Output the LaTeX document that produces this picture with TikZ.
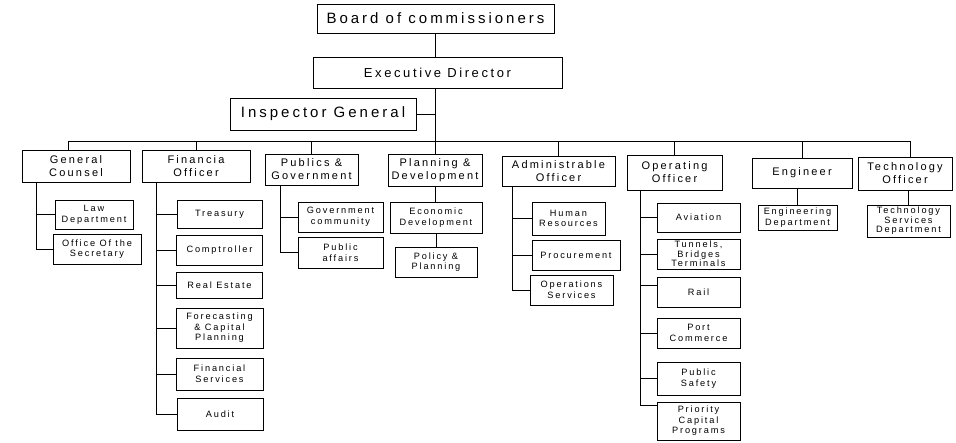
\documentclass[tikz,border=0pt]{standalone}
\usepackage{fontspec}
\setmainfont{Liberation Sans}[LetterSpace=20]
\begin{document}
\begin{tikzpicture}[x=1pt,y=-1pt,line width=0.9pt,
  box/.style={draw,rectangle,align=center,inner sep=0.5pt},
  topbox/.style={box,font=\fontsize{15}{18}\selectfont},
  edbox/.style={box,font=\fontsize{13}{16}\selectfont},
  headbox/.style={box,font=\fontsize{11}{13}\selectfont},
  subbox/.style={box,font=\fontsize{9.2}{10.6}\selectfont},
  tightbox/.style={box,font=\fontsize{9.2}{9.4}\selectfont}]
\useasboundingbox (0,0) rectangle (956,442);
% top levels
\node[topbox,minimum width=237pt,minimum height=29pt] (board) at (435.5,18.5) {Board of commissioners};
\node[edbox,minimum width=249pt,minimum height=31pt] (ed) at (437.5,72.5) {Executive Director};
\node[topbox,minimum width=186pt,minimum height=32pt] (ig) at (323,114) {Inspector General};
% heads
\node[headbox,minimum width=108pt,minimum height=32pt] (gc) at (76,166) {General\\Counsel};
\node[headbox,minimum width=108pt,minimum height=32pt] (fin) at (196,166) {Financia\\Officer};
\node[headbox,minimum width=93pt,minimum height=31pt] (pub) at (311.5,169.5) {Publics \&\\Government};
\node[headbox,minimum width=94pt,minimum height=32pt] (plan) at (435,170) {Planning \&\\Development};
\node[headbox,minimum width=113pt,minimum height=30pt] (adm) at (558.5,171) {Administrable\\Officer};
\node[headbox,minimum width=95pt,minimum height=35pt] (op) at (674.5,172.5) {Operating\\Officer};
\node[headbox,minimum width=100pt,minimum height=30pt] (eng) at (802,173) {Engineer};
\node[headbox,minimum width=94pt,minimum height=33pt] (tech) at (905,173.5) {Technology\\Officer};
% general counsel children
\node[subbox,minimum width=78pt,minimum height=29pt] (law) at (94,214.5) {Law\\Department};
\node[subbox,minimum width=88pt,minimum height=30pt] (sec) at (97,249) {Office Of the\\Secretary};
% financial children
\node[subbox,minimum width=85pt,minimum height=28pt] (tre) at (219.5,214) {Treasury};
\node[subbox,minimum width=86pt,minimum height=30pt] (comp) at (219.5,250) {Comptroller};
\node[subbox,minimum width=86pt,minimum height=26pt] (real) at (219.5,285) {Real Estate};
\node[subbox,minimum width=87pt,minimum height=40pt] (fore) at (219.5,328) {Forecasting\\\& Capital\\Planning};
\node[subbox,minimum width=87pt,minimum height=32pt] (fsv) at (219.5,374) {Financial\\Services};
\node[subbox,minimum width=86pt,minimum height=32pt] (aud) at (220,414) {Audit};
% publics children
\node[subbox,minimum width=85pt,minimum height=30pt] (gov) at (340.5,217) {Government\\community};
\node[subbox,minimum width=85pt,minimum height=31pt] (paff) at (340.5,252.5) {Public\\affairs};
% planning children
\node[subbox,minimum width=92pt,minimum height=31pt] (eco) at (436,217.5) {Economic\\Development};
\node[subbox,minimum width=82pt,minimum height=30pt] (pol) at (436,262) {Policy \&\\Planning};
% admin children
\node[subbox,minimum width=73pt,minimum height=33pt] (hr) at (568.5,218.5) {Human\\Resources};
\node[subbox,minimum width=88pt,minimum height=30pt] (proc) at (576,255) {Procurement};
\node[subbox,minimum width=83pt,minimum height=30pt] (ops) at (571.5,290) {Operations\\Services};
% operating children
\node[subbox,minimum width=83pt,minimum height=29pt] (av) at (698.5,217.5) {Aviation};
\node[tightbox,minimum width=83pt,minimum height=30pt] (tun) at (698.5,254) {Tunnels,\\Bridges\\Terminals};
\node[subbox,minimum width=83pt,minimum height=30pt] (rail) at (698.5,292) {Rail};
\node[subbox,minimum width=83pt,minimum height=30pt] (port) at (698.5,333) {Port\\Commerce};
\node[subbox,minimum width=83pt,minimum height=33pt] (saf) at (698.5,378.5) {Public\\Safety};
\node[subbox,minimum width=83pt,minimum height=38pt] (prio) at (698.5,421) {Priority\\Capital\\Programs};
% engineer / technology children
\node[subbox,minimum width=79pt,minimum height=25pt] (engdep) at (797.5,217.5) {Engineering\\Department};
\node[tightbox,minimum width=83pt,minimum height=32pt] (tsd) at (908.5,221) {Technology\\Services\\Department};
% connectors: top
\draw (board.south) -- (board.south |- ed.north);
\draw (ed.south -| plan.north) -- (plan.north);
\draw (ig.east) -- (ig.east -| plan.north);
\coordinate (barL) at (68,141);
\coordinate (barR) at (910,141);
\draw (barL) -- (barR);
\draw (gc.north -| barL) -- (barL);
\draw (fin.north) -- (fin.north |- barL);
\draw (pub.north) -- (pub.north |- barL);
\draw (adm.north) -- (adm.north |- barL);
\draw (op.north) -- (op.north |- barL);
\draw (eng.north) -- (eng.north |- barL);
\draw (tech.north -| barR) -- (barR);
% general counsel branch
\coordinate (gcT) at (36,0);
\draw (gc.south -| gcT) |- (sec.west);
\draw (law.west) -- (law.west -| gcT);
% financial branch
\coordinate (finT) at (156,0);
\draw (fin.south -| finT) |- (aud.west);
\foreach \n in {tre,comp,real,fore,fsv} \draw (\n.west) -- (\n.west -| finT);
% publics branch
\coordinate (pubT) at (280,0);
\draw (pub.south -| pubT) |- (paff.west);
\draw (gov.west) -- (gov.west -| pubT);
% planning branch
\draw (plan.south) -- (plan.south |- eco.north);
\draw (eco.south) -- (eco.south |- pol.north);
% admin branch
\coordinate (admT) at (512,0);
\draw (adm.south -| admT) |- (ops.west);
\foreach \n in {hr,proc} \draw (\n.west) -- (\n.west -| admT);
% operating branch
\coordinate (opT) at (640,0);
\draw (op.south -| opT) |- ([yshift=16pt]prio.west);
\foreach \n in {av,tun,port,saf} \draw (\n.west) -- (\n.west -| opT);
\draw ([yshift=7pt]rail.west) -- ([yshift=7pt]rail.west -| opT);
% engineer and technology
\draw (eng.south -| engdep.north) -- (engdep.north);
\draw (tech.south -| tsd.north) -- (tsd.north);
\end{tikzpicture}
\end{document}
